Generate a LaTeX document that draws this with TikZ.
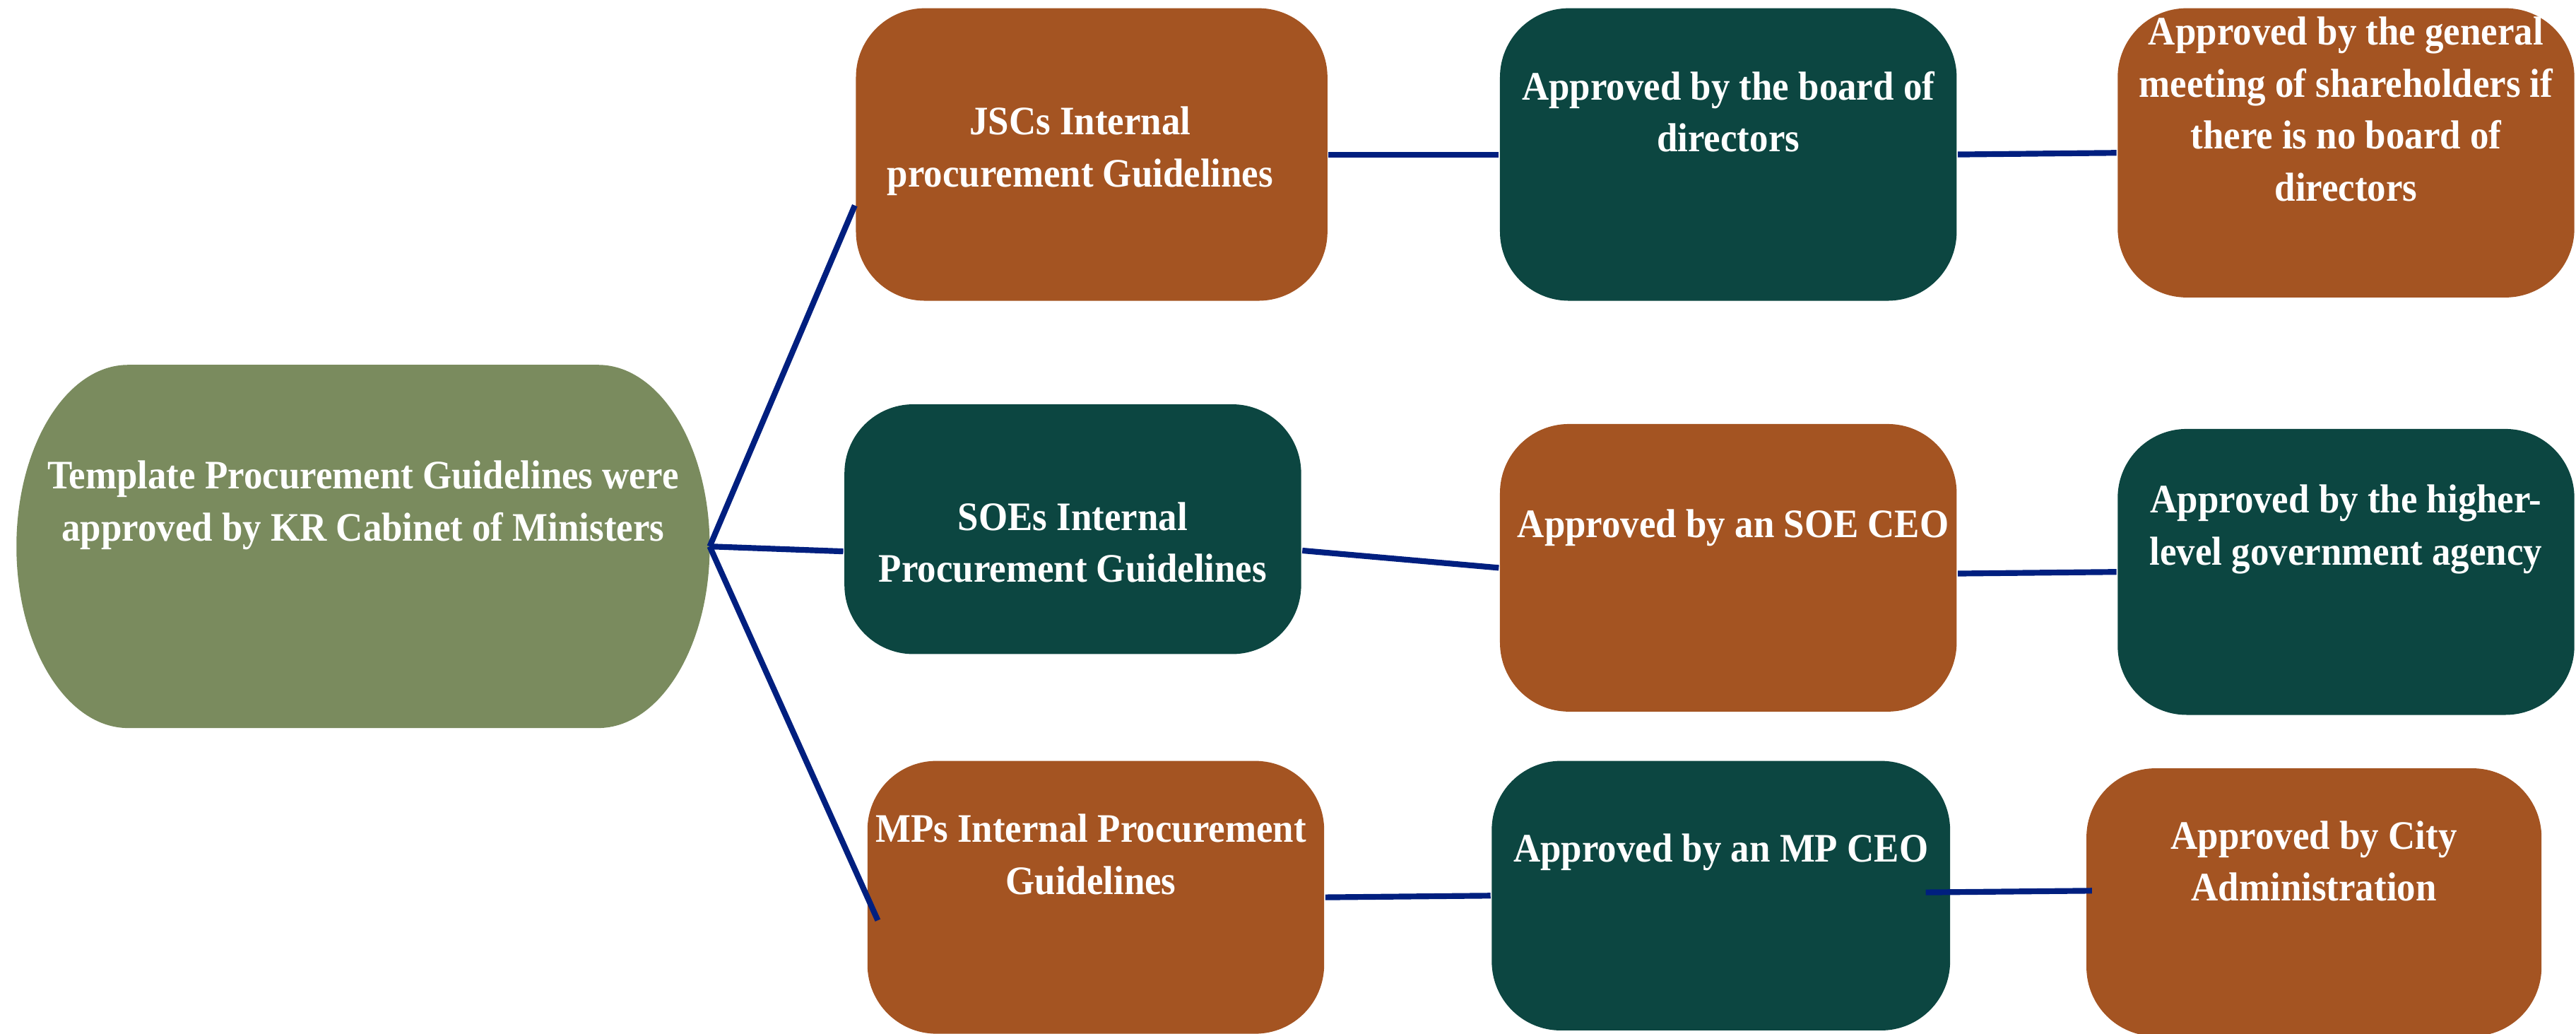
\documentclass[tikz,border=0pt]{standalone}
\usepackage{fontspec}
\setmainfont{Liberation Serif}[FakeStretch=0.925]
\definecolor{rust}{RGB}{164,84,34}
\definecolor{pine}{RGB}{12,70,65}
\definecolor{sage}{RGB}{122,139,94}
\definecolor{linkblue}{RGB}{0,31,127}
\begin{document}
\begin{tikzpicture}[x=1cm,y=1cm,
  box/.style={rectangle, rounded corners=0.42cm, minimum width=2.78cm, minimum height=1.76cm, inner sep=0pt},
  txt/.style={align=center, text=white, font=\bfseries\fontsize{7}{9}\selectfont, inner sep=0pt},
  link/.style={draw=linkblue, line width=1pt}]
  \useasboundingbox (0,0) rectangle (15.68,-6.29);

  % root shape with elliptic ends
  \node[rectangle, minimum width=4.22cm, minimum height=2.21cm, inner sep=0pt, outer sep=0pt] (root) at (2.21,-3.325) {};
  \fill[sage] ([xshift=0.68cm]root.north west) -- ([xshift=-0.68cm]root.north east)
    arc[start angle=90, end angle=-90, x radius=0.68cm, y radius=1.105cm]
    -- ([xshift=0.68cm]root.south west)
    arc[start angle=270, end angle=90, x radius=0.68cm, y radius=1.105cm] -- cycle;

  % first column
  \node[box, fill=rust, minimum width=2.87cm, minimum height=1.78cm] (jsc) at (6.645,-0.94) {};
  \node[box, fill=pine, minimum height=1.52cm] (soe) at (6.53,-3.22) {};
  \node[box, fill=rust, minimum height=1.66cm] (mp) at (6.67,-5.46) {};

  % second column
  \node[box, fill=pine, minimum height=1.78cm] (board) at (10.52,-0.94) {};
  \node[box, fill=rust, minimum height=1.75cm] (soeceo) at (10.52,-3.455) {};
  \node[box, fill=pine, minimum width=2.79cm, minimum height=1.64cm] (mpceo) at (10.475,-5.45) {};

  % third column
  \node[box, fill=rust] (general) at (14.28,-0.93) {};
  \node[box, fill=pine, minimum height=1.74cm] (higher) at (14.28,-3.48) {};
  \node[box, fill=rust, minimum width=2.77cm, minimum height=1.63cm] (city) at (14.085,-5.49) {};

  % texts
  \node[txt] (rootText) at ([yshift=0.25cm]root.center) {Template Procurement Guidelines were\\approved by KR Cabinet of Ministers};
  \node[txt] (jscText) at ([shift={(-0.07,0.02)}]jsc.center) {JSCs Internal\\procurement Guidelines};
  \node[txt] (soeText) at ([yshift=-0.08cm]soe.center) {SOEs Internal\\Procurement Guidelines};
  \node[txt] (mpText) at ([shift={(-0.03,0.26)}]mp.center) {MPs Internal Procurement\\Guidelines};
  \node[txt] (boardText) at ([yshift=0.26cm]board.center) {Approved by the board of\\directors};
  \node[txt] (soeceoText) at ([shift={(0.03,0.245)}]soeceo.center) {Approved by an SOE CEO};
  \node[txt] (mpceoText) at ([yshift=0.265cm]mpceo.center) {Approved by an MP CEO};
  \node[txt] (generalText) at ([yshift=0.265cm]general.center) {Approved by the general\\meeting of shareholders if\\there is no board of\\directors};
  \node[txt] (higherText) at ([yshift=0.26cm]higher.center) {Approved by the higher-\\level government agency};
  \node[txt] (cityText) at ([yshift=0.25cm]city.center) {Approved by City\\Administration};

  \draw[link] (root.east) -- ([yshift=-0.31cm]jsc.west);
  \draw[link] (root.east) -- ([yshift=-0.135cm]soe.west);
  \draw[link] (root.east) -- ([shift={(0.07,-0.14)}]mp.west);
  \draw[link] (jsc.east) -- (board.west);
  \draw[link] (board.east) -- (general.west);
  \draw[link] ([yshift=-0.13cm]soe.east) -- (soeceo.west);
  \draw[link] ([yshift=-0.035cm]soeceo.east) -- (higher.west);
  \draw[link] (mp.east) -- (mpceo.west);
  \draw[link] ([shift={(-0.155,0.02)}]mpceo.east) -- ([shift={(0.04,0.07)}]city.west);
\end{tikzpicture}
\end{document}
